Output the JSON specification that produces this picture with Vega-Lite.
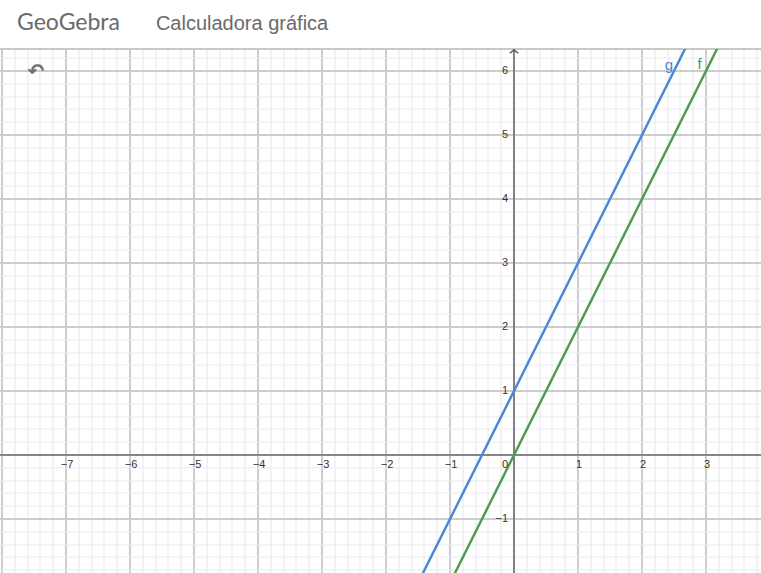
{
  "$schema": "https://vega.github.io/schema/vega-lite/v6.json",
  "width": 761,
  "height": 524,
  "autosize": "none",
  "padding": {"top": 49, "left": 0, "right": 0, "bottom": 0},
  "background": "white",
  "config": {"view": {"stroke": null}},
  "title": {
    "text": "GeoGebra",
    "subtitle": "\u200b\u00a0\u00a0\u00a0\u00a0\u00a0\u00a0\u00a0\u00a0\u00a0\u00a0\u00a0\u00a0\u00a0\u00a0\u00a0\u00a0\u00a0\u00a0\u00a0\u00a0\u00a0\u00a0\u00a0\u00a0\u00a0Calculadora gráfica",
    "anchor": "start",
    "frame": "group",
    "dx": 17,
    "offset": 12,
    "font": "Lato",
    "fontSize": 23,
    "fontWeight": "normal",
    "color": "#6a6a6a",
    "subtitleFont": "Liberation Sans",
    "subtitleFontSize": 20,
    "subtitleColor": "#6a6a6a",
    "subtitlePadding": -21
  },
  "datasets": {
    "lines": [
      {"fn": "g", "x": -1.6, "y": -2.2},
      {"fn": "g", "x": 2.9, "y": 6.8},
      {"fn": "f", "x": -1.2, "y": -2.4},
      {"fn": "f", "x": 3.4, "y": 6.8}
    ],
    "zero": [{"v": 0}],
    "xlabels": [
      {"v": -7, "t": "−7"}, {"v": -6, "t": "−6"}, {"v": -5, "t": "−5"}, {"v": -4, "t": "−4"},
      {"v": -3, "t": "−3"}, {"v": -2, "t": "−2"}, {"v": -1, "t": "−1"},
      {"v": 1, "t": "1"}, {"v": 2, "t": "2"}, {"v": 3, "t": "3"}
    ],
    "ylabels": [
      {"v": -1, "t": "−1"}, {"v": 1, "t": "1"}, {"v": 2, "t": "2"}, {"v": 3, "t": "3"},
      {"v": 4, "t": "4"}, {"v": 5, "t": "5"}, {"v": 6, "t": "6"}
    ],
    "fnlabels": [
      {"fn": "g", "x": 2.42, "y": 6.09},
      {"fn": "f", "x": 2.9, "y": 6.11}
    ],
    "icons": [
      {"x": -7.47, "y": 5.98, "t": "↶"}
    ],
    "arrow": [{"x": 0, "y": 6.328}]
  },
  "layer": [
    {
      "data": {"name": "lines"},
      "mark": {"type": "line", "strokeWidth": 2.5, "clip": true, "opacity": 0},
      "encoding": {
        "x": {
          "field": "x", "type": "quantitative",
          "scale": {"domain": [-8.03125, 3.859375], "nice": false, "zero": false},
          "axis": {
            "orient": "top", "title": null, "labels": false, "ticks": false, "translate": 0,
            "tickCount": 500,
            "domain": true, "domainColor": "#c8c8c8", "domainWidth": 2,
            "grid": true,
            "gridWidth": {"condition": {"test": "abs(datum.value - round(datum.value)) < 0.01", "value": 2}, "value": 1.2},
            "gridColor": {"condition": {"test": "abs(datum.value - round(datum.value)) < 0.01", "value": "#cdcdcd"}, "value": "#ebebeb"},
            "values": [-8,-7.8,-7.6,-7.4,-7.2,-7,-6.8,-6.6,-6.4,-6.2,-6,-5.8,-5.6,-5.4,-5.2,-5,-4.8,-4.6,-4.4,-4.2,-4,-3.8,-3.6,-3.4,-3.2,-3,-2.8,-2.6,-2.4,-2.2,-2,-1.8,-1.6,-1.4,-1.2,-1,-0.8,-0.6,-0.4,-0.2,0,0.2,0.4,0.6,0.8,1,1.2,1.4,1.6,1.8,2,2.2,2.4,2.6,2.8,3,3.2,3.4,3.6,3.8]
          }
        },
        "y": {
          "field": "y", "type": "quantitative",
          "scale": {"domain": [-1.84375, 6.34375], "nice": false, "zero": false},
          "axis": {
            "orient": "left", "title": null, "labels": false, "ticks": false, "translate": 0,
            "tickCount": 500,
            "domain": false, "grid": true,
            "gridWidth": {"condition": {"test": "abs(datum.value - round(datum.value)) < 0.01", "value": 2}, "value": 1.2},
            "gridColor": {"condition": {"test": "abs(datum.value - round(datum.value)) < 0.01", "value": "#cdcdcd"}, "value": "#ebebeb"},
            "values": [-1.8,-1.6,-1.4,-1.2,-1,-0.8,-0.6,-0.4,-0.2,0,0.2,0.4,0.6,0.8,1,1.2,1.4,1.6,1.8,2,2.2,2.4,2.6,2.8,3,3.2,3.4,3.6,3.8,4,4.2,4.4,4.6,4.8,5,5.2,5.4,5.6,5.8,6,6.2]
          }
        },
        "color": {"field": "fn", "type": "nominal", "scale": {"domain": ["f", "g"], "range": ["#4f9b50", "#4a88d6"]}, "legend": null},
        "detail": {"field": "fn"}
      }
    },
    {
      "data": {"name": "zero"},
      "mark": {"type": "rule", "color": "#6e6e6e", "strokeWidth": 1.6},
      "encoding": {
        "x": {"field": "v", "type": "quantitative", "scale": {"domain": [-8.03125, 3.859375], "nice": false, "zero": false}}
      }
    },
    {
      "data": {"name": "zero"},
      "mark": {"type": "rule", "color": "#6e6e6e", "strokeWidth": 1.6},
      "encoding": {
        "y": {"field": "v", "type": "quantitative", "scale": {"domain": [-1.84375, 6.34375], "nice": false, "zero": false}}
      }
    },
    {
      "data": {"name": "arrow"},
      "mark": {"type": "point", "shape": "M-1,0.75L0,0L1,0.75", "size": 70, "filled": false, "stroke": "#555555", "strokeWidth": 1.3, "opacity": 1},
      "encoding": {
        "x": {"field": "x", "type": "quantitative", "scale": {"domain": [-8.03125, 3.859375], "nice": false, "zero": false}},
        "y": {"field": "y", "type": "quantitative", "scale": {"domain": [-1.84375, 6.34375], "nice": false, "zero": false}}
      }
    },
    {
      "data": {"name": "lines"},
      "mark": {"type": "line", "strokeWidth": 2.5, "clip": true},
      "encoding": {
        "x": {"field": "x", "type": "quantitative", "scale": {"domain": [-8.03125, 3.859375], "nice": false, "zero": false}},
        "y": {"field": "y", "type": "quantitative", "scale": {"domain": [-1.84375, 6.34375], "nice": false, "zero": false}},
        "color": {"field": "fn", "type": "nominal", "legend": null},
        "detail": {"field": "fn"}
      }
    },
    {
      "data": {"name": "xlabels"},
      "mark": {"type": "text", "font": "Liberation Sans", "fontSize": 11, "color": "#333333", "baseline": "middle", "align": "center", "dy": 10, "dx": 1},
      "encoding": {
        "x": {"field": "v", "type": "quantitative", "scale": {"domain": [-8.03125, 3.859375], "nice": false, "zero": false}},
        "y": {"datum": 0, "type": "quantitative", "scale": {"domain": [-1.84375, 6.34375], "nice": false, "zero": false}},
        "text": {"field": "t"}
      }
    },
    {
      "data": {"name": "ylabels"},
      "mark": {"type": "text", "font": "Liberation Sans", "fontSize": 11, "color": "#333333", "baseline": "middle", "align": "right", "dx": -6},
      "encoding": {
        "x": {"datum": 0, "type": "quantitative", "scale": {"domain": [-8.03125, 3.859375], "nice": false, "zero": false}},
        "y": {"field": "v", "type": "quantitative", "scale": {"domain": [-1.84375, 6.34375], "nice": false, "zero": false}},
        "text": {"field": "t"}
      }
    },
    {
      "data": {"values": [{"v": 0, "t": "0"}]},
      "mark": {"type": "text", "font": "Liberation Sans", "fontSize": 11, "color": "#333333", "baseline": "middle", "align": "right", "dx": -6, "dy": 10},
      "encoding": {
        "x": {"field": "v", "type": "quantitative", "scale": {"domain": [-8.03125, 3.859375], "nice": false, "zero": false}},
        "y": {"field": "v", "type": "quantitative", "scale": {"domain": [-1.84375, 6.34375], "nice": false, "zero": false}},
        "text": {"field": "t"}
      }
    },
    {
      "data": {"name": "fnlabels"},
      "mark": {"type": "text", "font": "Liberation Sans", "fontSize": 15, "baseline": "middle", "align": "center"},
      "encoding": {
        "x": {"field": "x", "type": "quantitative", "scale": {"domain": [-8.03125, 3.859375], "nice": false, "zero": false}},
        "y": {"field": "y", "type": "quantitative", "scale": {"domain": [-1.84375, 6.34375], "nice": false, "zero": false}},
        "color": {"field": "fn", "type": "nominal", "legend": null},
        "text": {"field": "fn"}
      }
    },
    {
      "data": {"name": "icons"},
      "mark": {"type": "text", "font": "DejaVu Sans", "fontSize": 20, "fontWeight": "bold", "color": "#707070", "baseline": "middle", "align": "center"},
      "encoding": {
        "x": {"field": "x", "type": "quantitative", "scale": {"domain": [-8.03125, 3.859375], "nice": false, "zero": false}},
        "y": {"field": "y", "type": "quantitative", "scale": {"domain": [-1.84375, 6.34375], "nice": false, "zero": false}},
        "text": {"field": "t"}
      }
    }
  ]
}
